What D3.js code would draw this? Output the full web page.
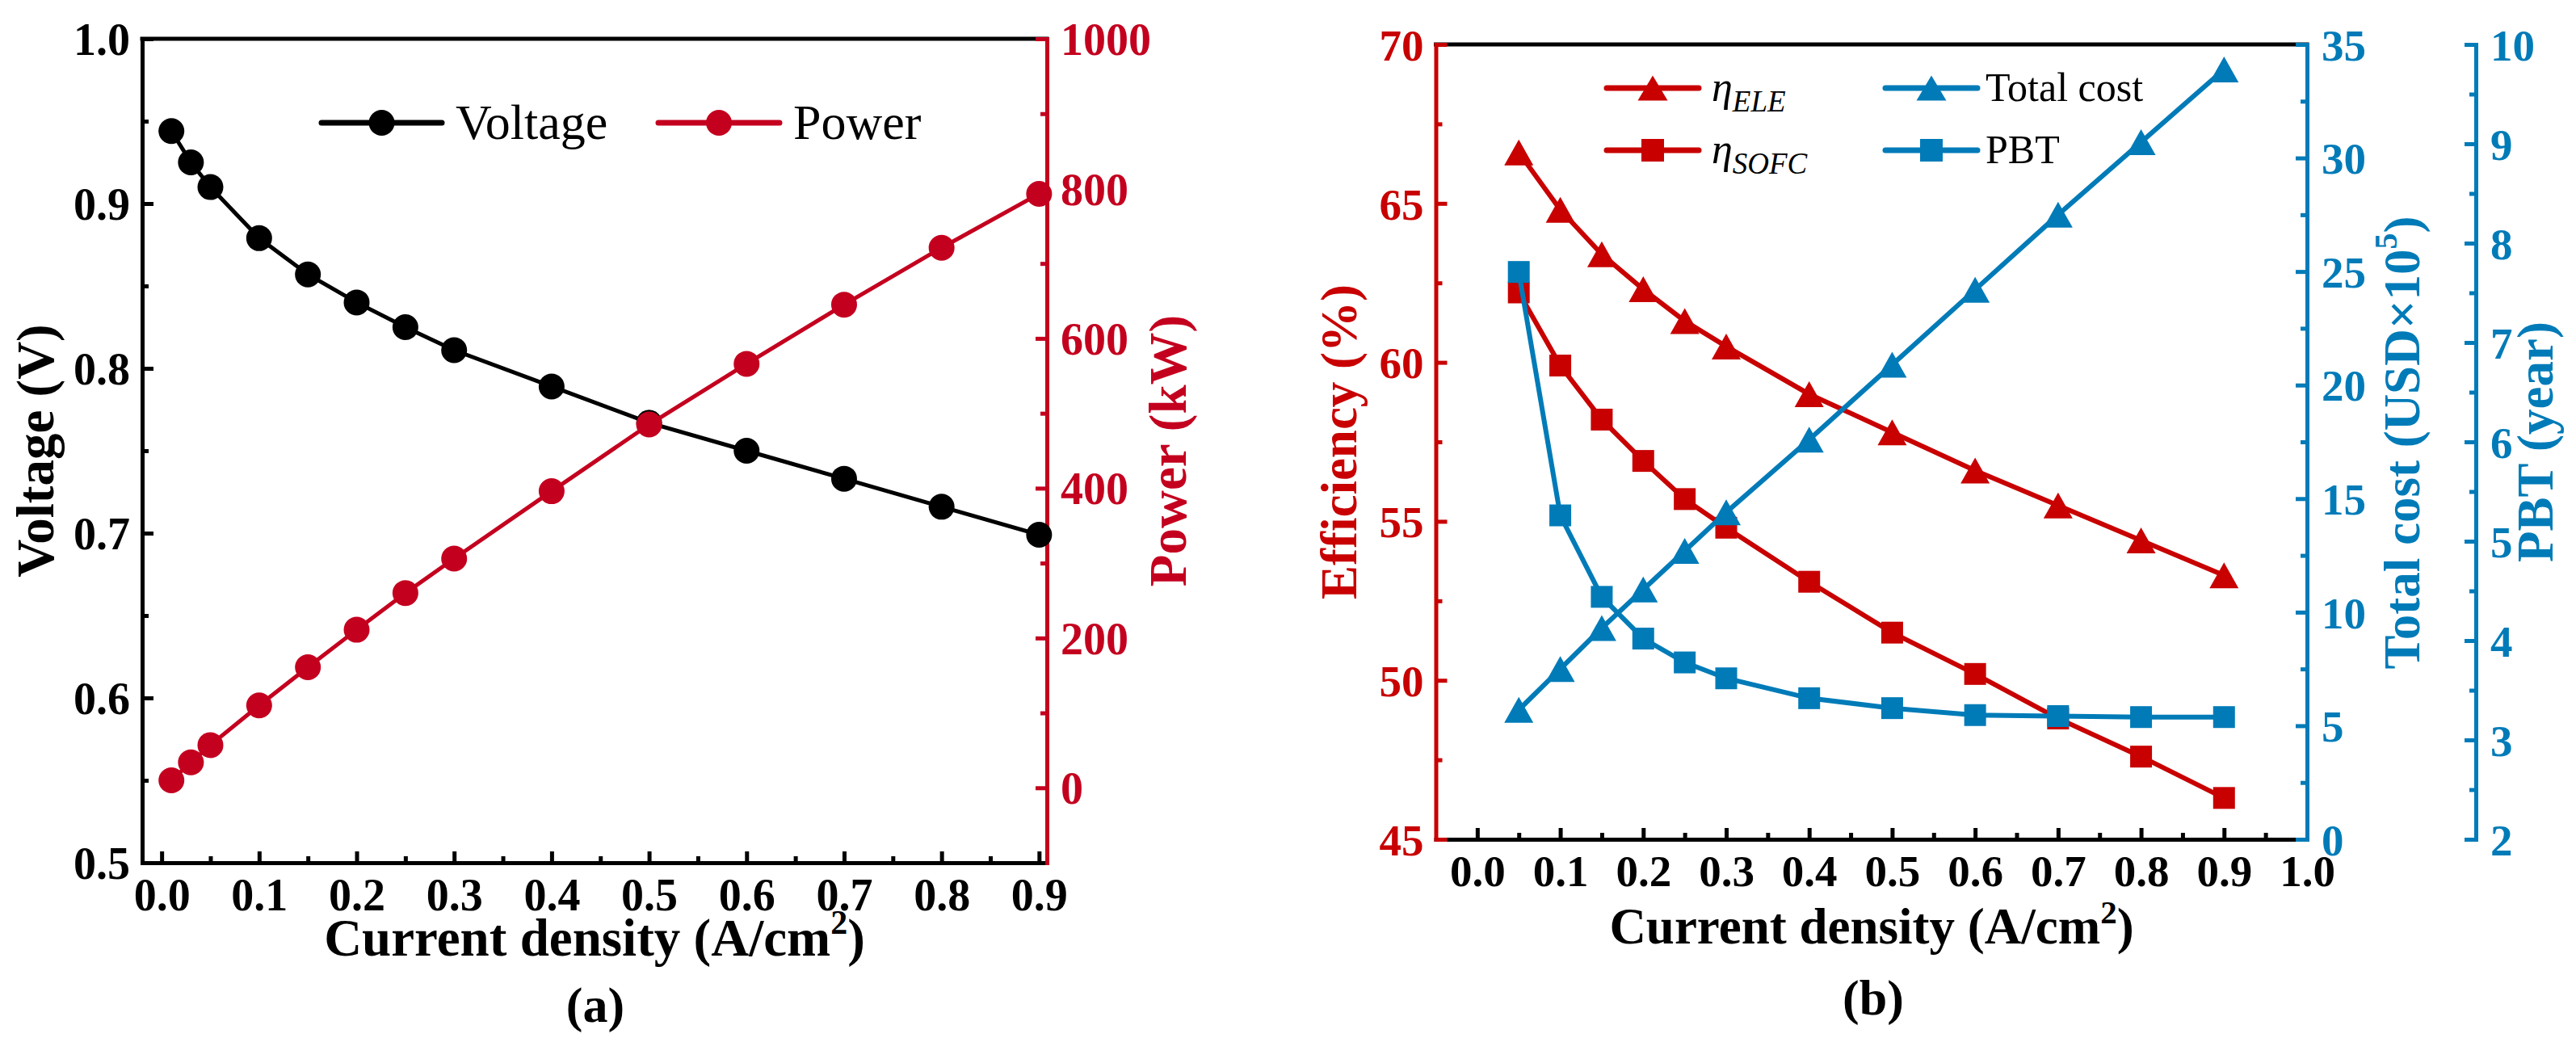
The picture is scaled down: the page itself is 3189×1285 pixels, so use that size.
<!DOCTYPE html>
<html><head><meta charset="utf-8">
<script src="https://cdn.jsdelivr.net/npm/d3@7"></script>
<style>
body{margin:0;background:#fff}
text{font-family:"Liberation Serif","Times New Roman",serif}
</style>
</head><body>
<svg id="c" width="3189" height="1285"></svg>
<script>
// ---------- data ----------
const currentA = [0.01,0.03,0.05,0.1,0.15,0.2,0.25,0.3,0.4,0.5,0.6,0.7,0.8,0.9];
const voltage  = [0.944,0.925,0.910,0.879,0.857,0.840,0.825,0.811,0.789,0.767,0.750,0.733,0.716,0.699];
const power    = [10,34,57,110,161,211,260,306,396,485,566,645,721,793];

const currentB  = [0.05,0.1,0.15,0.2,0.25,0.3,0.4,0.5,0.6,0.7,0.8,0.9];
const etaELE    = [66.6,64.8,63.4,62.3,61.3,60.5,59.0,57.8,56.6,55.5,54.4,53.3];
const etaSOFC   = [62.2,59.9,58.2,56.9,55.7,54.8,53.1,51.5,50.2,48.8,47.6,46.3];
const totalCost = [5.7,7.5,9.3,11.0,12.7,14.4,17.6,20.9,24.2,27.5,30.7,33.9];
const pbt       = [7.71,5.26,4.44,4.02,3.78,3.62,3.42,3.32,3.25,3.24,3.23,3.23];

const xTicksA = [0,0.1,0.2,0.3,0.4,0.5,0.6,0.7,0.8,0.9];
const vTicks  = [0.5,0.6,0.7,0.8,0.9,1.0];
const pTicks  = [0,200,400,600,800,1000];
const xTicksB = [0,0.1,0.2,0.3,0.4,0.5,0.6,0.7,0.8,0.9,1.0];
const effTicks  = [45,50,55,60,65,70];
const costTicks = [0,5,10,15,20,25,30,35];
const pbtTicks  = [2,3,4,5,6,7,8,9,10];

// ---------- colours ----------
const RED_A = "#C4001F", RED_B = "#C80000", BLUE = "#007BB8", BLACK = "#000";

const svg = d3.select("#c");
svg.append("rect").attr("width",3189).attr("height",1285).attr("fill","#fff");

function mid(arr){ const o=[]; for(let i=0;i<arr.length-1;i++) o.push(+((arr[i]+arr[i+1])/2).toFixed(4)); return o; }

function drawAxis(g, axisFn, scale, major, minor, color, fs, fmt, labelPos){
  const a = g.append("g");
  a.call(axisFn(scale).tickValues(major).tickSizeInner(-14).tickSizeOuter(0).tickFormat(fmt));
  a.select(".domain").attr("stroke",color).attr("stroke-width",5).attr("stroke-linecap","square");
  a.selectAll(".tick line").attr("stroke",color).attr("stroke-width",5);
  const t = a.selectAll(".tick text").attr("fill",color).attr("font-size",fs).attr("font-weight","bold")
    .attr("font-family",'"Liberation Serif","Times New Roman",serif');
  labelPos(t);
  const m = g.append("g");
  m.call(axisFn(scale).tickValues(minor).tickSizeInner(-8).tickSizeOuter(0).tickFormat(""));
  m.select(".domain").remove();
  m.selectAll(".tick line").attr("stroke",color).attr("stroke-width",5);
  return a;
}

function triPath(w,h){ return `M0,${-h/2}L${w/2},${h/2}L${-w/2},${h/2}Z`; }

// ================= Panel (a) =================
const xA = d3.scaleLinear([-0.02,0.908],[176,1296]);
const yV = d3.scaleLinear([0.5,1.0],[1068,48]);
const yP = d3.scaleLinear([-100,1000],[1068,48]);
const gA = svg.append("g");

gA.append("line").attr("x1",xA.range()[0]).attr("x2",xA.range()[1]).attr("y1",yV.range()[1]).attr("y2",yV.range()[1])
  .attr("stroke",BLACK).attr("stroke-width",5).attr("stroke-linecap","square");

drawAxis(gA.append("g").attr("transform",`translate(0,${yV.range()[0]})`), d3.axisBottom, xA,
  xTicksA, mid(xTicksA), BLACK, 56, d3.format(".1f"), t=>t.attr("y",59).attr("dy",0));
drawAxis(gA.append("g").attr("transform",`translate(${xA.range()[0]},0)`), d3.axisLeft, yV,
  vTicks, mid(vTicks), BLACK, 56, d3.format(".1f"), t=>t.attr("x",-15).attr("dy","0.35em"));
drawAxis(gA.append("g").attr("transform",`translate(${xA.range()[1]},0)`), d3.axisRight, yP,
  pTicks, mid(pTicks), RED_A, 56, d3.format("d"), t=>t.attr("x",17).attr("dy","0.35em"));

const lineV = d3.line().x((d,i)=>xA(currentA[i])).y(d=>yV(d));
gA.append("path").attr("d",lineV(voltage)).attr("fill","none").attr("stroke",BLACK).attr("stroke-width",5);
gA.selectAll("circle.v").data(voltage).join("circle").attr("class","v")
  .attr("cx",(d,i)=>xA(currentA[i])).attr("cy",d=>yV(d)).attr("r",16).attr("fill",BLACK);
const lineP = d3.line().x((d,i)=>xA(currentA[i])).y(d=>yP(d));
gA.append("path").attr("d",lineP(power)).attr("fill","none").attr("stroke",RED_A).attr("stroke-width",5);
gA.selectAll("circle.p").data(power).join("circle").attr("class","p")
  .attr("cx",(d,i)=>xA(currentA[i])).attr("cy",d=>yP(d)).attr("r",16).attr("fill",RED_A);

function legA(x1,x2,y,color,label){
  gA.append("line").attr("x1",x1).attr("x2",x2).attr("y1",y).attr("y2",y).attr("stroke",color)
    .attr("stroke-width",7).attr("stroke-linecap","round");
  gA.append("circle").attr("cx",(x1+x2)/2).attr("cy",y).attr("r",16).attr("fill",color);
  gA.append("text").attr("x",x2+17).attr("y",y+20).attr("font-size",62).attr("fill",BLACK).text(label);
}
legA(398,547,152,BLACK,"Voltage");
legA(815,965,152,RED_A,"Power");

const tA = gA.append("text").attr("x",736).attr("y",1183).attr("text-anchor","middle")
  .attr("font-size",65).attr("font-weight","bold").attr("fill",BLACK);
tA.append("tspan").text("Current density (A/cm");
tA.append("tspan").attr("dy",-27).attr("font-size",42).text("2");
tA.append("tspan").attr("dy",27).text(")");
gA.append("text").attr("transform","translate(66,558) rotate(-90)").attr("text-anchor","middle")
  .attr("font-size",65).attr("font-weight","bold").attr("fill",BLACK).text("Voltage (V)");
gA.append("text").attr("transform","translate(1468,558) rotate(-90)").attr("text-anchor","middle")
  .attr("font-size",65).attr("font-weight","bold").attr("fill",RED_A).text("Power (kW)");
gA.append("text").attr("x",737).attr("y",1265).attr("text-anchor","middle")
  .attr("font-size",62).attr("font-weight","bold").attr("fill",BLACK).text("(a)");

// ================= Panel (b) =================
const xB = d3.scaleLinear([-0.05,1.0],[1777.5,2856]);
const yE = d3.scaleLinear([45,70],[1039,55]);
const yC = d3.scaleLinear([0,35],[1039,55]);
const yT = d3.scaleLinear([2,10],[1039,55]);
const pbtX = 3065;
const gB = svg.append("g");

gB.append("line").attr("x1",xB.range()[0]).attr("x2",xB.range()[1]).attr("y1",yE.range()[1]).attr("y2",yE.range()[1])
  .attr("stroke",BLACK).attr("stroke-width",5).attr("stroke-linecap","square");

drawAxis(gB.append("g").attr("transform",`translate(0,${yE.range()[0]})`), d3.axisBottom, xB,
  xTicksB, mid(xTicksB), BLACK, 55, d3.format(".1f"), t=>t.attr("y",58).attr("dy",0));
drawAxis(gB.append("g").attr("transform",`translate(${xB.range()[0]},0)`), d3.axisLeft, yE,
  effTicks, mid(effTicks), RED_B, 55, d3.format("d"), t=>t.attr("x",-15).attr("dy","0.35em"));
drawAxis(gB.append("g").attr("transform",`translate(${xB.range()[1]},0)`), d3.axisRight, yC,
  costTicks, mid(costTicks), BLUE, 55, d3.format("d"), t=>t.attr("x",18).attr("dy","0.35em"));
drawAxis(gB.append("g").attr("transform",`translate(${pbtX},0)`), d3.axisRight, yT,
  pbtTicks, mid(pbtTicks), BLUE, 55, d3.format("d"), t=>t.attr("x",18).attr("dy","0.35em"));

function seriesB(vals, yS, color, shape){
  const ln = d3.line().x((d,i)=>xB(currentB[i])).y(d=>yS(d));
  gB.append("path").attr("d",ln(vals)).attr("fill","none").attr("stroke",color).attr("stroke-width",6);
  const g = gB.append("g");
  if(shape==="tri"){
    g.selectAll("path").data(vals).join("path").attr("d",triPath(36,32))
      .attr("transform",(d,i)=>`translate(${xB(currentB[i])},${yS(d)})`).attr("fill",color);
  } else {
    g.selectAll("rect").data(vals).join("rect").attr("width",27).attr("height",27)
      .attr("x",(d,i)=>xB(currentB[i])-13.5).attr("y",d=>yS(d)-13.5).attr("fill",color);
  }
}
seriesB(etaELE, yE, RED_B, "tri");
seriesB(etaSOFC, yE, RED_B, "sq");
seriesB(totalCost, yC, BLUE, "tri");
seriesB(pbt, yT, BLUE, "sq");

function legB(x1,x2,y,color,shape){
  gB.append("line").attr("x1",x1).attr("x2",x2).attr("y1",y).attr("y2",y).attr("stroke",color)
    .attr("stroke-width",7).attr("stroke-linecap","round");
  const cx=(x1+x2)/2;
  if(shape==="tri") gB.append("path").attr("d",triPath(37,31)).attr("transform",`translate(${cx},${y})`).attr("fill",color);
  else gB.append("rect").attr("x",cx-14).attr("y",y-14).attr("width",28).attr("height",28).attr("fill",color);
}
legB(1989,2103,109,RED_B,"tri");
legB(1989,2103,186,RED_B,"sq");
legB(2334,2448,109,BLUE,"tri");
legB(2334,2448,186,BLUE,"sq");
function etaLabel(y,sub){
  const t = gB.append("text").attr("x",2119).attr("y",y).attr("font-size",52).attr("font-style","italic").attr("fill",BLACK);
  t.append("tspan").text("η");
  t.append("tspan").attr("dy",13).attr("font-size",37).text(sub);
}
etaLabel(125,"ELE");
etaLabel(202,"SOFC");
gB.append("text").attr("x",2458).attr("y",125).attr("font-size",50).attr("fill",BLACK).text("Total cost");
gB.append("text").attr("x",2458).attr("y",202).attr("font-size",50).attr("fill",BLACK).text("PBT");

const tB = gB.append("text").attr("x",2317).attr("y",1168).attr("text-anchor","middle")
  .attr("font-size",63).attr("font-weight","bold").attr("fill",BLACK);
tB.append("tspan").text("Current density (A/cm");
tB.append("tspan").attr("dy",-25).attr("font-size",41).text("2");
tB.append("tspan").attr("dy",25).text(")");
gB.append("text").attr("transform","translate(1679,547) rotate(-90)").attr("text-anchor","middle")
  .attr("font-size",63).attr("font-weight","bold").attr("fill",RED_B).text("Efficiency (%)");
const tc = gB.append("text").attr("transform","translate(2995,548) rotate(-90)").attr("text-anchor","middle")
  .attr("font-size",63).attr("font-weight","bold").attr("fill",BLUE);
tc.append("tspan").text("Total cost (USD×10");
tc.append("tspan").attr("dy",-28).attr("font-size",40).text("5");
tc.append("tspan").attr("dy",28).text(")");
gB.append("text").attr("transform","translate(3160,547) rotate(-90)").attr("text-anchor","middle")
  .attr("font-size",63).attr("font-weight","bold").attr("fill",BLUE).text("PBT (year)");
gB.append("text").attr("x",2319).attr("y",1256).attr("text-anchor","middle")
  .attr("font-size",62).attr("font-weight","bold").attr("fill",BLACK).text("(b)");
</script>
</body></html>
